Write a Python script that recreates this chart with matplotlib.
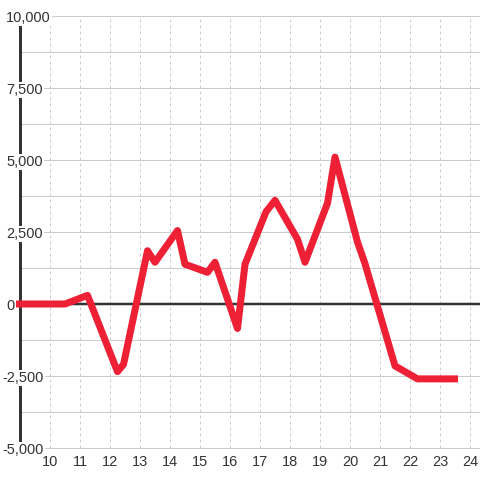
import matplotlib
matplotlib.use("Agg")
import matplotlib.pyplot as plt
import matplotlib.transforms as mtransforms
import numpy as np

# ---- data ----
hours = [8.85, 10.5, 11.25, 12.25, 12.45, 13.25, 13.5, 14.25, 14.5, 15.25, 15.5,
         16.25, 16.5, 17.2, 17.5, 18.25, 18.5, 19.25, 19.5, 20.25, 20.5, 21.5,
         22.25, 23.6]
values = [0, 0, 300, -2350, -2100, 1850, 1450, 2550, 1380, 1100, 1450,
          -850, 1380, 3200, 3600, 2250, 1450, 3500, 5100, 2150, 1400, -2150,
          -2600, -2600]
x_ticks = list(range(10, 25))
y_ticks = [-5000, -2500, 0, 2500, 5000, 7500, 10000]
y_labels = ["-5,000", "-2,500", "0", "2,500", "5,000", "7,500", "10,000"]
y_grid_step = 1250

plt.rcParams['font.family'] = ['Liberation Sans', 'DejaVu Sans']

W = H = 480
fig = plt.figure(figsize=(4.8, 4.8), dpi=100)
fig.patch.set_facecolor('white')
ax = fig.add_axes([20 / W, 32 / H, 460 / W, 432 / H])
ax.set_xlim(9, 9 + 460 / 30)
ax.set_ylim(-5000, 10000)
for s in ax.spines.values():
    s.set_visible(False)
ax.set_xticks([])
ax.set_yticks([])
ax.set_facecolor('white')

px = 0.72  # one pixel in points
grid_col = '#cccccc'
text_col = '#333333'

# horizontal grid
for v in np.arange(y_ticks[0], y_ticks[-1] + 1, y_grid_step):
    if v == 0:
        continue
    ax.axhline(v, color=grid_col, lw=px, zorder=1, clip_on=False)

# vertical dashed grid
for xv in x_ticks:
    ax.axvline(xv, color=grid_col, lw=px, dashes=(3, 3), zorder=1, clip_on=False)

# zero line and axis line
ax.axhline(0, color=text_col, lw=2.5 * px, zorder=3, clip_on=False)
ax.axvline(9, color=text_col, lw=3 * px, zorder=3, clip_on=False)

# series
ax.plot(hours, values, color='#ee2035', lw=7 * px, zorder=4,
        solid_joinstyle='round', solid_capstyle='butt', clip_on=False)

fs = 14.5 * px

# y labels
ylab_tr = mtransforms.blended_transform_factory(ax.transAxes, ax.transData) + \
    mtransforms.ScaledTranslation(0, -6 / 100, fig.dpi_scale_trans)
for v, lab in zip(y_ticks, y_labels):
    xpix = 2.5 if lab.startswith('-') else 6.3
    ax.text((xpix - 20) / 460, v, lab, transform=ylab_tr, ha='left', va='baseline',
            fontsize=fs, color=text_col, zorder=10, clip_on=False,
            bbox=dict(facecolor='white', edgecolor='none', pad=1.0))

# x labels
xlab_tr = mtransforms.blended_transform_factory(ax.transData, ax.transAxes) + \
    mtransforms.ScaledTranslation(0, -18 / 100, fig.dpi_scale_trans)
for xv in x_ticks:
    ax.text(xv, 0, str(xv), transform=xlab_tr, ha='center', va='baseline',
            fontsize=fs, color=text_col, zorder=10, clip_on=False)

fig.savefig('out.png', dpi=100, facecolor='white')
